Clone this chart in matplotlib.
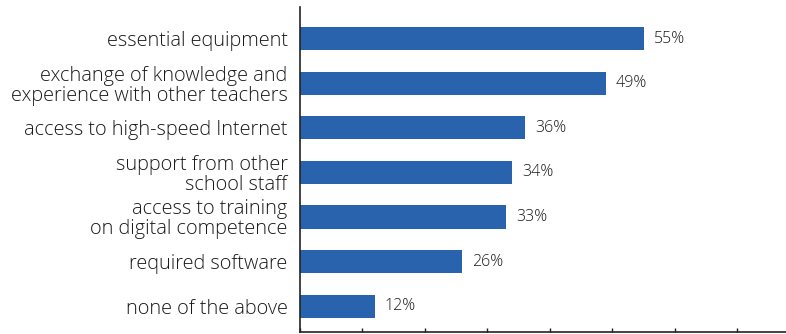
import matplotlib
matplotlib.use("Agg")
import matplotlib.pyplot as plt

# what teachers say they need (share of respondents, %)
categories = [
    "essential equipment",
    "exchange of knowledge and\nexperience with other teachers",
    "access to high-speed Internet",
    "support from other\nschool staff",
    "access to training\non digital competence",
    "required software",
    "none of the above",
]
shares = [55, 49, 36, 34, 33, 26, 12]
tick_values = [0, 10, 20, 30, 40, 50, 60, 70]

BAR_COL = "#2963ae"
TXT_COL = "#1a1a1a"

plt.rcParams["font.family"] = ["Open Sans", "DejaVu Sans"]
plt.rcParams["font.weight"] = "light"

fig = plt.figure(figsize=(7.86, 3.34), dpi=100)
ax = fig.add_axes([0.3817, 0.006, 0.6183, 0.973])

pos = list(range(len(categories)))
ax.barh(pos, shares, height=0.52, color=BAR_COL, zorder=2)

for y, v in zip(pos, shares):
    ax.text(v + 1.6, y, f"{v}%", va="center", ha="left",
            fontsize=11.5, color=TXT_COL)

ax.set_yticks(pos)
ax.set_yticklabels(categories, fontsize=14.3, color=TXT_COL, linespacing=1.0)
ax.tick_params(axis="y", length=0, pad=9)

ax.set_xticks(tick_values)
ax.set_xticklabels([])
ax.tick_params(axis="x", direction="in", length=3, width=1, color="#222222")

ax.set_xlim(0, 77.8)
ax.set_ylim(6.58, -0.71)

for side in ("top", "right"):
    ax.spines[side].set_visible(False)
for side in ("left", "bottom"):
    ax.spines[side].set_color("#222222")
    ax.spines[side].set_linewidth(1.2)

fig.savefig("out.png", dpi=100)
